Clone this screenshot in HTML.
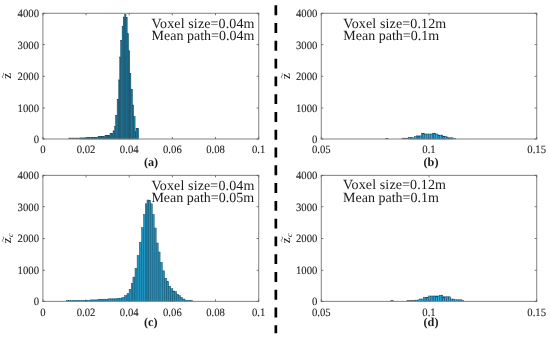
<!DOCTYPE html>
<html><head><meta charset="utf-8"><style>
html,body{margin:0;padding:0;background:#fff;}
body{width:550px;height:339px;overflow:hidden;}
svg{display:block;filter:blur(0.45px);}
text{font-family:"Liberation Serif",serif;fill:#1a1a1a;text-rendering:geometricPrecision;}
.tk{font-size:11.2px;stroke:#1a1a1a;stroke-width:0.08px;}
.lg{font-size:14px;}
.pl{font-size:12.2px;font-weight:bold;}
.yl{font-size:13px;}
.ys{font-size:8px;font-style:italic;}
.yt{font-size:8px;}
</style></head><body>
<svg width="550" height="339" viewBox="0 0 550 339">
<rect width="550" height="339" fill="#fff"/>
<g fill="#1f7fa5" stroke="#0b3d52" stroke-width="0.45"><rect x="80.00" y="137.90" width="1.40" height="1.10"/><rect x="81.40" y="137.90" width="1.40" height="1.10"/><rect x="82.80" y="137.90" width="1.40" height="1.10"/><rect x="84.20" y="137.90" width="1.40" height="1.10"/><rect x="85.60" y="137.90" width="1.40" height="1.10"/><rect x="87.00" y="137.60" width="1.38" height="1.40"/><rect x="88.38" y="137.60" width="1.38" height="1.40"/><rect x="89.75" y="137.60" width="1.38" height="1.40"/><rect x="91.12" y="137.60" width="1.38" height="1.40"/><rect x="92.50" y="137.60" width="1.38" height="1.40"/><rect x="93.88" y="137.60" width="1.38" height="1.40"/><rect x="95.25" y="137.60" width="1.38" height="1.40"/><rect x="96.62" y="137.60" width="1.38" height="1.40"/><rect x="98.00" y="136.70" width="1.40" height="2.30"/><rect x="99.40" y="136.70" width="1.40" height="2.30"/><rect x="100.80" y="136.70" width="1.40" height="2.30"/><rect x="102.20" y="136.70" width="1.40" height="2.30"/><rect x="103.60" y="136.70" width="1.40" height="2.30"/><rect x="105.00" y="135.30" width="1.25" height="3.70"/><rect x="106.25" y="135.30" width="1.25" height="3.70"/><rect x="107.50" y="135.30" width="1.25" height="3.70"/><rect x="108.75" y="135.30" width="1.25" height="3.70"/><rect x="110.00" y="133.40" width="1.50" height="5.60"/><rect x="111.50" y="133.40" width="1.50" height="5.60"/><rect x="113.00" y="130.80" width="1.70" height="8.20"/><rect x="114.70" y="126.50" width="0.80" height="12.50"/><rect x="115.50" y="115.30" width="1.60" height="23.70"/><rect x="117.10" y="99.20" width="1.60" height="39.80"/><rect x="118.70" y="79.90" width="1.00" height="59.10"/><rect x="119.70" y="57.00" width="0.90" height="82.00"/><rect x="120.60" y="40.30" width="1.50" height="98.70"/><rect x="122.10" y="26.20" width="1.10" height="112.80"/><rect x="123.20" y="17.00" width="1.40" height="122.00"/><rect x="124.60" y="14.60" width="1.40" height="124.40"/><rect x="126.00" y="17.50" width="1.20" height="121.50"/><rect x="127.20" y="33.70" width="1.40" height="105.30"/><rect x="128.60" y="50.80" width="1.20" height="88.20"/><rect x="129.80" y="73.30" width="1.10" height="65.70"/><rect x="130.90" y="89.30" width="1.60" height="49.70"/><rect x="132.50" y="105.00" width="1.20" height="34.00"/><rect x="133.70" y="116.60" width="1.40" height="22.40"/><rect x="135.10" y="131.50" width="0.90" height="7.50"/><rect x="136.00" y="128.30" width="1.35" height="10.70"/><rect x="137.35" y="128.30" width="1.35" height="10.70"/></g><g fill="#333"><rect x="68.60" y="137.80" width="1.42" height="1.20"/><rect x="70.02" y="137.80" width="1.42" height="1.20"/><rect x="71.45" y="137.80" width="1.43" height="1.20"/><rect x="72.88" y="137.80" width="1.42" height="1.20"/><rect x="74.30" y="137.80" width="1.42" height="1.20"/><rect x="75.72" y="137.80" width="1.43" height="1.20"/><rect x="77.15" y="137.80" width="1.42" height="1.20"/><rect x="78.58" y="137.80" width="1.42" height="1.20"/></g><g fill="#2092be" stroke="#0d4a66" stroke-width="0.45"><rect x="66.40" y="300.40" width="2.15" height="1.00"/><rect x="68.55" y="300.40" width="2.15" height="1.00"/><rect x="70.69" y="300.40" width="2.15" height="1.00"/><rect x="72.84" y="300.40" width="2.15" height="1.00"/><rect x="74.98" y="300.40" width="2.15" height="1.00"/><rect x="77.13" y="300.40" width="2.15" height="1.00"/><rect x="79.27" y="300.40" width="2.15" height="1.00"/><rect x="81.42" y="300.40" width="2.15" height="1.00"/><rect x="83.56" y="300.40" width="2.15" height="1.00"/><rect x="85.71" y="300.40" width="2.15" height="1.00"/><rect x="87.85" y="300.40" width="2.15" height="1.00"/><rect x="90.00" y="299.90" width="2.00" height="1.50"/><rect x="92.00" y="299.90" width="2.00" height="1.50"/><rect x="94.00" y="299.90" width="2.00" height="1.50"/><rect x="96.00" y="299.90" width="2.00" height="1.50"/><rect x="98.00" y="299.20" width="2.00" height="2.20"/><rect x="100.00" y="299.20" width="2.00" height="2.20"/><rect x="102.00" y="299.20" width="2.00" height="2.20"/><rect x="104.00" y="299.20" width="2.00" height="2.20"/><rect x="106.00" y="299.20" width="2.00" height="2.20"/><rect x="108.00" y="298.80" width="2.25" height="2.60"/><rect x="110.25" y="298.80" width="2.25" height="2.60"/><rect x="112.50" y="298.80" width="2.25" height="2.60"/><rect x="114.75" y="298.80" width="2.25" height="2.60"/><rect x="117.00" y="298.20" width="2.45" height="3.20"/><rect x="119.45" y="298.20" width="2.45" height="3.20"/><rect x="121.90" y="297.40" width="2.50" height="4.00"/><rect x="124.40" y="295.50" width="2.60" height="5.90"/><rect x="127.00" y="293.60" width="2.10" height="7.80"/><rect x="129.10" y="289.20" width="2.10" height="12.20"/><rect x="131.20" y="283.50" width="1.70" height="17.90"/><rect x="132.90" y="277.10" width="2.10" height="24.30"/><rect x="135.00" y="268.20" width="2.10" height="33.20"/><rect x="137.10" y="255.40" width="2.20" height="46.00"/><rect x="139.30" y="242.20" width="2.20" height="59.20"/><rect x="141.50" y="227.70" width="2.00" height="73.70"/><rect x="143.50" y="214.50" width="1.80" height="86.90"/><rect x="145.30" y="203.80" width="1.70" height="97.60"/><rect x="147.00" y="200.00" width="1.80" height="101.40"/><rect x="148.80" y="200.50" width="1.80" height="100.90"/><rect x="150.60" y="203.80" width="1.70" height="97.60"/><rect x="152.30" y="214.50" width="1.90" height="86.90"/><rect x="154.20" y="228.00" width="2.00" height="73.40"/><rect x="156.20" y="243.00" width="2.00" height="58.40"/><rect x="158.20" y="252.00" width="1.90" height="49.40"/><rect x="160.10" y="262.30" width="2.20" height="39.10"/><rect x="162.30" y="270.80" width="2.30" height="30.60"/><rect x="164.60" y="278.40" width="2.20" height="23.00"/><rect x="166.80" y="281.50" width="1.90" height="19.90"/><rect x="168.70" y="286.30" width="2.10" height="15.10"/><rect x="170.80" y="288.70" width="2.00" height="12.70"/><rect x="172.80" y="291.00" width="1.90" height="10.40"/><rect x="174.70" y="291.50" width="1.90" height="9.90"/><rect x="176.60" y="294.20" width="1.90" height="7.20"/><rect x="178.50" y="295.60" width="2.00" height="5.80"/><rect x="180.50" y="297.50" width="2.00" height="3.90"/><rect x="182.50" y="299.00" width="2.50" height="2.40"/><rect x="185.00" y="300.20" width="2.43" height="1.20"/><rect x="187.43" y="300.20" width="2.43" height="1.20"/><rect x="189.87" y="300.20" width="2.43" height="1.20"/></g><g fill="#333"></g><g fill="#22b0ea" stroke="#0a3550" stroke-width="0.45"><rect x="408.50" y="137.30" width="1.80" height="1.70"/><rect x="410.30" y="137.30" width="1.80" height="1.70"/><rect x="412.10" y="137.80" width="2.20" height="1.20"/><rect x="414.30" y="136.70" width="1.90" height="2.30"/><rect x="416.20" y="135.90" width="1.73" height="3.10"/><rect x="417.93" y="135.90" width="1.73" height="3.10"/><rect x="419.67" y="135.90" width="1.73" height="3.10"/><rect x="421.40" y="133.20" width="1.50" height="5.80"/><rect x="422.90" y="133.20" width="1.50" height="5.80"/><rect x="424.40" y="134.00" width="1.98" height="5.00"/><rect x="426.38" y="134.00" width="1.98" height="5.00"/><rect x="428.35" y="134.00" width="1.97" height="5.00"/><rect x="430.32" y="134.00" width="1.98" height="5.00"/><rect x="432.30" y="133.20" width="1.60" height="5.80"/><rect x="433.90" y="133.20" width="1.60" height="5.80"/><rect x="435.50" y="134.00" width="2.50" height="5.00"/><rect x="438.00" y="135.10" width="1.60" height="3.90"/><rect x="439.60" y="135.10" width="1.60" height="3.90"/><rect x="441.20" y="135.10" width="1.60" height="3.90"/><rect x="442.80" y="136.20" width="1.80" height="2.80"/><rect x="444.60" y="136.20" width="1.80" height="2.80"/><rect x="446.40" y="137.00" width="1.60" height="2.00"/><rect x="448.00" y="137.80" width="1.67" height="1.20"/><rect x="449.67" y="137.80" width="1.67" height="1.20"/><rect x="451.33" y="137.80" width="1.67" height="1.20"/></g><g fill="#333"><rect x="385.40" y="138.00" width="1.45" height="1.00"/><rect x="386.85" y="138.00" width="1.45" height="1.00"/><rect x="401.80" y="137.90" width="1.68" height="1.10"/><rect x="403.48" y="137.90" width="1.67" height="1.10"/><rect x="405.15" y="137.90" width="1.68" height="1.10"/><rect x="406.82" y="137.90" width="1.68" height="1.10"/><rect x="453.00" y="138.10" width="1.50" height="0.90"/><rect x="454.50" y="138.10" width="1.50" height="0.90"/></g><g fill="#22b0ea" stroke="#0a3550" stroke-width="0.45"><rect x="415.50" y="300.10" width="1.75" height="1.30"/><rect x="417.25" y="300.10" width="1.75" height="1.30"/><rect x="419.00" y="299.00" width="2.20" height="2.40"/><rect x="421.20" y="299.00" width="2.20" height="2.40"/><rect x="423.40" y="297.60" width="1.70" height="3.80"/><rect x="425.10" y="297.60" width="1.70" height="3.80"/><rect x="426.80" y="297.60" width="1.70" height="3.80"/><rect x="428.50" y="296.00" width="1.83" height="5.40"/><rect x="430.33" y="296.00" width="1.83" height="5.40"/><rect x="432.17" y="296.00" width="1.83" height="5.40"/><rect x="434.00" y="296.00" width="1.83" height="5.40"/><rect x="435.83" y="296.00" width="1.83" height="5.40"/><rect x="437.67" y="296.00" width="1.83" height="5.40"/><rect x="439.50" y="295.20" width="1.65" height="6.20"/><rect x="441.15" y="295.20" width="1.65" height="6.20"/><rect x="442.80" y="296.80" width="1.97" height="4.60"/><rect x="444.77" y="296.80" width="1.98" height="4.60"/><rect x="446.75" y="296.80" width="1.98" height="4.60"/><rect x="448.73" y="296.80" width="1.97" height="4.60"/><rect x="450.70" y="299.00" width="1.90" height="2.40"/><rect x="452.60" y="299.00" width="1.90" height="2.40"/><rect x="454.50" y="299.80" width="1.88" height="1.60"/><rect x="456.38" y="299.80" width="1.88" height="1.60"/><rect x="458.25" y="299.80" width="1.88" height="1.60"/><rect x="460.12" y="299.80" width="1.88" height="1.60"/></g><g fill="#333"><rect x="390.40" y="300.30" width="1.60" height="1.10"/><rect x="392.00" y="300.30" width="1.60" height="1.10"/><rect x="406.70" y="300.20" width="1.76" height="1.20"/><rect x="408.46" y="300.20" width="1.76" height="1.20"/><rect x="410.22" y="300.20" width="1.76" height="1.20"/><rect x="411.98" y="300.20" width="1.76" height="1.20"/><rect x="413.74" y="300.20" width="1.76" height="1.20"/><rect x="462.00" y="300.30" width="2.00" height="1.10"/></g><rect x="42.9" y="13.3" width="215.79999999999998" height="125.7" fill="none" stroke="#8c8c8c" stroke-width="1.1"/><line x1="42.9" y1="139.00" x2="44.9" y2="139.00" stroke="#555" stroke-width="0.8"/><line x1="258.7" y1="139.00" x2="256.7" y2="139.00" stroke="#555" stroke-width="0.8"/><text x="39.00" y="142.90" text-anchor="end" class="tk" textLength="5.35" lengthAdjust="spacingAndGlyphs">0</text><line x1="42.9" y1="108.00" x2="44.9" y2="108.00" stroke="#555" stroke-width="0.8"/><line x1="258.7" y1="108.00" x2="256.7" y2="108.00" stroke="#555" stroke-width="0.8"/><text x="39.00" y="111.90" text-anchor="end" class="tk" textLength="21.4" lengthAdjust="spacingAndGlyphs">1000</text><line x1="42.9" y1="76.30" x2="44.9" y2="76.30" stroke="#555" stroke-width="0.8"/><line x1="258.7" y1="76.30" x2="256.7" y2="76.30" stroke="#555" stroke-width="0.8"/><text x="39.00" y="80.20" text-anchor="end" class="tk" textLength="21.4" lengthAdjust="spacingAndGlyphs">2000</text><line x1="42.9" y1="44.60" x2="44.9" y2="44.60" stroke="#555" stroke-width="0.8"/><line x1="258.7" y1="44.60" x2="256.7" y2="44.60" stroke="#555" stroke-width="0.8"/><text x="39.00" y="48.50" text-anchor="end" class="tk" textLength="21.4" lengthAdjust="spacingAndGlyphs">3000</text><line x1="42.9" y1="13.35" x2="44.9" y2="13.35" stroke="#555" stroke-width="0.8"/><line x1="258.7" y1="13.35" x2="256.7" y2="13.35" stroke="#555" stroke-width="0.8"/><text x="39.00" y="17.25" text-anchor="end" class="tk" textLength="21.4" lengthAdjust="spacingAndGlyphs">4000</text><line x1="42.90" y1="139.0" x2="42.90" y2="137.0" stroke="#555" stroke-width="0.8"/><line x1="42.90" y1="13.3" x2="42.90" y2="15.3" stroke="#555" stroke-width="0.8"/><text x="42.90" y="153.10" text-anchor="middle" class="tk" textLength="5.35" lengthAdjust="spacingAndGlyphs">0</text><line x1="86.06" y1="139.0" x2="86.06" y2="137.0" stroke="#555" stroke-width="0.8"/><line x1="86.06" y1="13.3" x2="86.06" y2="15.3" stroke="#555" stroke-width="0.8"/><text x="86.06" y="153.10" text-anchor="middle" class="tk" textLength="18.72" lengthAdjust="spacingAndGlyphs">0.02</text><line x1="129.22" y1="139.0" x2="129.22" y2="137.0" stroke="#555" stroke-width="0.8"/><line x1="129.22" y1="13.3" x2="129.22" y2="15.3" stroke="#555" stroke-width="0.8"/><text x="129.22" y="153.10" text-anchor="middle" class="tk" textLength="18.72" lengthAdjust="spacingAndGlyphs">0.04</text><line x1="172.38" y1="139.0" x2="172.38" y2="137.0" stroke="#555" stroke-width="0.8"/><line x1="172.38" y1="13.3" x2="172.38" y2="15.3" stroke="#555" stroke-width="0.8"/><text x="172.38" y="153.10" text-anchor="middle" class="tk" textLength="18.72" lengthAdjust="spacingAndGlyphs">0.06</text><line x1="215.54" y1="139.0" x2="215.54" y2="137.0" stroke="#555" stroke-width="0.8"/><line x1="215.54" y1="13.3" x2="215.54" y2="15.3" stroke="#555" stroke-width="0.8"/><text x="215.54" y="153.10" text-anchor="middle" class="tk" textLength="18.72" lengthAdjust="spacingAndGlyphs">0.08</text><line x1="258.70" y1="139.0" x2="258.70" y2="137.0" stroke="#555" stroke-width="0.8"/><line x1="258.70" y1="13.3" x2="258.70" y2="15.3" stroke="#555" stroke-width="0.8"/><text x="258.70" y="153.10" text-anchor="middle" class="tk" textLength="13.38" lengthAdjust="spacingAndGlyphs">0.1</text><rect x="321.3" y="13.3" width="215.40000000000003" height="125.7" fill="none" stroke="#8c8c8c" stroke-width="1.1"/><line x1="321.3" y1="139.00" x2="323.3" y2="139.00" stroke="#555" stroke-width="0.8"/><line x1="536.7" y1="139.00" x2="534.7" y2="139.00" stroke="#555" stroke-width="0.8"/><text x="317.40" y="142.90" text-anchor="end" class="tk" textLength="5.35" lengthAdjust="spacingAndGlyphs">0</text><line x1="321.3" y1="108.00" x2="323.3" y2="108.00" stroke="#555" stroke-width="0.8"/><line x1="536.7" y1="108.00" x2="534.7" y2="108.00" stroke="#555" stroke-width="0.8"/><text x="317.40" y="111.90" text-anchor="end" class="tk" textLength="21.4" lengthAdjust="spacingAndGlyphs">1000</text><line x1="321.3" y1="76.30" x2="323.3" y2="76.30" stroke="#555" stroke-width="0.8"/><line x1="536.7" y1="76.30" x2="534.7" y2="76.30" stroke="#555" stroke-width="0.8"/><text x="317.40" y="80.20" text-anchor="end" class="tk" textLength="21.4" lengthAdjust="spacingAndGlyphs">2000</text><line x1="321.3" y1="44.60" x2="323.3" y2="44.60" stroke="#555" stroke-width="0.8"/><line x1="536.7" y1="44.60" x2="534.7" y2="44.60" stroke="#555" stroke-width="0.8"/><text x="317.40" y="48.50" text-anchor="end" class="tk" textLength="21.4" lengthAdjust="spacingAndGlyphs">3000</text><line x1="321.3" y1="13.35" x2="323.3" y2="13.35" stroke="#555" stroke-width="0.8"/><line x1="536.7" y1="13.35" x2="534.7" y2="13.35" stroke="#555" stroke-width="0.8"/><text x="317.40" y="17.25" text-anchor="end" class="tk" textLength="21.4" lengthAdjust="spacingAndGlyphs">4000</text><line x1="321.30" y1="139.0" x2="321.30" y2="137.0" stroke="#555" stroke-width="0.8"/><line x1="321.30" y1="13.3" x2="321.30" y2="15.3" stroke="#555" stroke-width="0.8"/><text x="321.30" y="153.10" text-anchor="middle" class="tk" textLength="18.72" lengthAdjust="spacingAndGlyphs">0.05</text><line x1="429.00" y1="139.0" x2="429.00" y2="137.0" stroke="#555" stroke-width="0.8"/><line x1="429.00" y1="13.3" x2="429.00" y2="15.3" stroke="#555" stroke-width="0.8"/><text x="429.00" y="153.10" text-anchor="middle" class="tk" textLength="13.38" lengthAdjust="spacingAndGlyphs">0.1</text><line x1="536.70" y1="139.0" x2="536.70" y2="137.0" stroke="#555" stroke-width="0.8"/><line x1="536.70" y1="13.3" x2="536.70" y2="15.3" stroke="#555" stroke-width="0.8"/><text x="536.70" y="153.10" text-anchor="middle" class="tk" textLength="18.72" lengthAdjust="spacingAndGlyphs">0.15</text><rect x="42.9" y="175.4" width="215.79999999999998" height="125.99999999999997" fill="none" stroke="#8c8c8c" stroke-width="1.1"/><line x1="42.9" y1="301.40" x2="44.9" y2="301.40" stroke="#555" stroke-width="0.8"/><line x1="258.7" y1="301.40" x2="256.7" y2="301.40" stroke="#555" stroke-width="0.8"/><text x="39.00" y="305.30" text-anchor="end" class="tk" textLength="5.35" lengthAdjust="spacingAndGlyphs">0</text><line x1="42.9" y1="270.30" x2="44.9" y2="270.30" stroke="#555" stroke-width="0.8"/><line x1="258.7" y1="270.30" x2="256.7" y2="270.30" stroke="#555" stroke-width="0.8"/><text x="39.00" y="274.20" text-anchor="end" class="tk" textLength="21.4" lengthAdjust="spacingAndGlyphs">1000</text><line x1="42.9" y1="238.50" x2="44.9" y2="238.50" stroke="#555" stroke-width="0.8"/><line x1="258.7" y1="238.50" x2="256.7" y2="238.50" stroke="#555" stroke-width="0.8"/><text x="39.00" y="242.40" text-anchor="end" class="tk" textLength="21.4" lengthAdjust="spacingAndGlyphs">2000</text><line x1="42.9" y1="206.70" x2="44.9" y2="206.70" stroke="#555" stroke-width="0.8"/><line x1="258.7" y1="206.70" x2="256.7" y2="206.70" stroke="#555" stroke-width="0.8"/><text x="39.00" y="210.60" text-anchor="end" class="tk" textLength="21.4" lengthAdjust="spacingAndGlyphs">3000</text><line x1="42.9" y1="175.40" x2="44.9" y2="175.40" stroke="#555" stroke-width="0.8"/><line x1="258.7" y1="175.40" x2="256.7" y2="175.40" stroke="#555" stroke-width="0.8"/><text x="39.00" y="179.30" text-anchor="end" class="tk" textLength="21.4" lengthAdjust="spacingAndGlyphs">4000</text><line x1="42.90" y1="301.4" x2="42.90" y2="299.4" stroke="#555" stroke-width="0.8"/><line x1="42.90" y1="175.4" x2="42.90" y2="177.4" stroke="#555" stroke-width="0.8"/><text x="42.90" y="315.50" text-anchor="middle" class="tk" textLength="5.35" lengthAdjust="spacingAndGlyphs">0</text><line x1="86.06" y1="301.4" x2="86.06" y2="299.4" stroke="#555" stroke-width="0.8"/><line x1="86.06" y1="175.4" x2="86.06" y2="177.4" stroke="#555" stroke-width="0.8"/><text x="86.06" y="315.50" text-anchor="middle" class="tk" textLength="18.72" lengthAdjust="spacingAndGlyphs">0.02</text><line x1="129.22" y1="301.4" x2="129.22" y2="299.4" stroke="#555" stroke-width="0.8"/><line x1="129.22" y1="175.4" x2="129.22" y2="177.4" stroke="#555" stroke-width="0.8"/><text x="129.22" y="315.50" text-anchor="middle" class="tk" textLength="18.72" lengthAdjust="spacingAndGlyphs">0.04</text><line x1="172.38" y1="301.4" x2="172.38" y2="299.4" stroke="#555" stroke-width="0.8"/><line x1="172.38" y1="175.4" x2="172.38" y2="177.4" stroke="#555" stroke-width="0.8"/><text x="172.38" y="315.50" text-anchor="middle" class="tk" textLength="18.72" lengthAdjust="spacingAndGlyphs">0.06</text><line x1="215.54" y1="301.4" x2="215.54" y2="299.4" stroke="#555" stroke-width="0.8"/><line x1="215.54" y1="175.4" x2="215.54" y2="177.4" stroke="#555" stroke-width="0.8"/><text x="215.54" y="315.50" text-anchor="middle" class="tk" textLength="18.72" lengthAdjust="spacingAndGlyphs">0.08</text><line x1="258.70" y1="301.4" x2="258.70" y2="299.4" stroke="#555" stroke-width="0.8"/><line x1="258.70" y1="175.4" x2="258.70" y2="177.4" stroke="#555" stroke-width="0.8"/><text x="258.70" y="315.50" text-anchor="middle" class="tk" textLength="13.38" lengthAdjust="spacingAndGlyphs">0.1</text><rect x="321.3" y="175.4" width="215.40000000000003" height="125.99999999999997" fill="none" stroke="#8c8c8c" stroke-width="1.1"/><line x1="321.3" y1="301.40" x2="323.3" y2="301.40" stroke="#555" stroke-width="0.8"/><line x1="536.7" y1="301.40" x2="534.7" y2="301.40" stroke="#555" stroke-width="0.8"/><text x="317.40" y="305.30" text-anchor="end" class="tk" textLength="5.35" lengthAdjust="spacingAndGlyphs">0</text><line x1="321.3" y1="270.30" x2="323.3" y2="270.30" stroke="#555" stroke-width="0.8"/><line x1="536.7" y1="270.30" x2="534.7" y2="270.30" stroke="#555" stroke-width="0.8"/><text x="317.40" y="274.20" text-anchor="end" class="tk" textLength="21.4" lengthAdjust="spacingAndGlyphs">1000</text><line x1="321.3" y1="238.50" x2="323.3" y2="238.50" stroke="#555" stroke-width="0.8"/><line x1="536.7" y1="238.50" x2="534.7" y2="238.50" stroke="#555" stroke-width="0.8"/><text x="317.40" y="242.40" text-anchor="end" class="tk" textLength="21.4" lengthAdjust="spacingAndGlyphs">2000</text><line x1="321.3" y1="206.70" x2="323.3" y2="206.70" stroke="#555" stroke-width="0.8"/><line x1="536.7" y1="206.70" x2="534.7" y2="206.70" stroke="#555" stroke-width="0.8"/><text x="317.40" y="210.60" text-anchor="end" class="tk" textLength="21.4" lengthAdjust="spacingAndGlyphs">3000</text><line x1="321.3" y1="175.40" x2="323.3" y2="175.40" stroke="#555" stroke-width="0.8"/><line x1="536.7" y1="175.40" x2="534.7" y2="175.40" stroke="#555" stroke-width="0.8"/><text x="317.40" y="179.30" text-anchor="end" class="tk" textLength="21.4" lengthAdjust="spacingAndGlyphs">4000</text><line x1="321.30" y1="301.4" x2="321.30" y2="299.4" stroke="#555" stroke-width="0.8"/><line x1="321.30" y1="175.4" x2="321.30" y2="177.4" stroke="#555" stroke-width="0.8"/><text x="321.30" y="315.50" text-anchor="middle" class="tk" textLength="18.72" lengthAdjust="spacingAndGlyphs">0.05</text><line x1="429.00" y1="301.4" x2="429.00" y2="299.4" stroke="#555" stroke-width="0.8"/><line x1="429.00" y1="175.4" x2="429.00" y2="177.4" stroke="#555" stroke-width="0.8"/><text x="429.00" y="315.50" text-anchor="middle" class="tk" textLength="13.38" lengthAdjust="spacingAndGlyphs">0.1</text><line x1="536.70" y1="301.4" x2="536.70" y2="299.4" stroke="#555" stroke-width="0.8"/><line x1="536.70" y1="175.4" x2="536.70" y2="177.4" stroke="#555" stroke-width="0.8"/><text x="536.70" y="315.50" text-anchor="middle" class="tk" textLength="18.72" lengthAdjust="spacingAndGlyphs">0.15</text><text x="151.6" y="27.5" class="lg" letter-spacing="0.13">Voxel size=0.04m</text><text x="151.6" y="39.7" class="lg">Mean path=0.04m</text><text x="343.3" y="27.5" class="lg" letter-spacing="0.13">Voxel size=0.12m</text><text x="343.3" y="39.6" class="lg">Mean path=0.1m</text><text x="151.4" y="189.6" class="lg" letter-spacing="0.13">Voxel size=0.04m</text><text x="151.4" y="202.0" class="lg">Mean path=0.05m</text><text x="343.1" y="189.2" class="lg" letter-spacing="0.13">Voxel size=0.12m</text><text x="343.1" y="201.9" class="lg">Mean path=0.1m</text><text x="151.0" y="166.2" text-anchor="middle" class="pl">(a)</text><text x="431.0" y="165.9" text-anchor="middle" class="pl">(b)</text><text x="150.8" y="326.2" text-anchor="middle" class="pl">(c)</text><text x="431.0" y="325.9" text-anchor="middle" class="pl">(d)</text><g transform="translate(11.1,76.3) rotate(-90)"><text x="0.4" y="0" text-anchor="middle" class="yl">z</text><path d="M-1.8,-8.0 q1.3,-1.6 2.6,0 t2.6,0" fill="none" stroke="#555" stroke-width="0.8"/></g><g transform="translate(290.0,76.6) rotate(-90)"><text x="0.4" y="0" text-anchor="middle" class="yl">z</text><path d="M-1.8,-8.0 q1.3,-1.6 2.6,0 t2.6,0" fill="none" stroke="#555" stroke-width="0.8"/></g><g transform="translate(11.1,238.2) rotate(-90)"><text x="-2.2" y="0" text-anchor="middle" class="yl">z</text><text x="1.1999999999999997" y="2.0" class="ys">c</text><path d="M-3.6000000000000005,-8.0 q1.3,-1.6 2.6,0 t2.6,0" fill="none" stroke="#555" stroke-width="0.8"/></g><g transform="translate(290.0,238.2) rotate(-90)"><text x="-2.2" y="0" text-anchor="middle" class="yl">z</text><text x="1.1999999999999997" y="2.0" class="ys">c</text><path d="M-3.6000000000000005,-8.0 q1.3,-1.6 2.6,0 t2.6,0" fill="none" stroke="#555" stroke-width="0.8"/></g><line x1="275.85" y1="5.3" x2="275.85" y2="333.3" stroke="#000" stroke-width="2.7" stroke-dasharray="9.9 7.88"/>
</svg>
</body></html>
